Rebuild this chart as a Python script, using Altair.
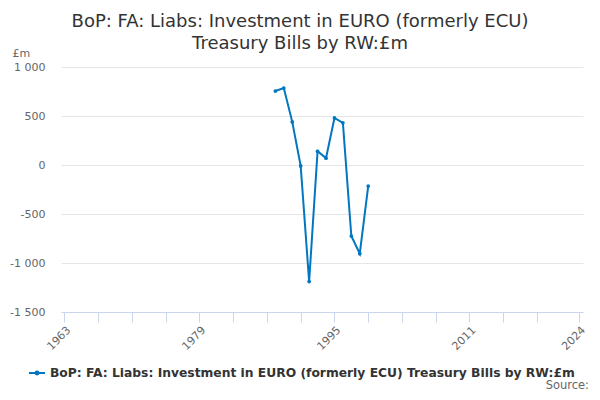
import altair as alt
import pandas as pd

years = [1988, 1989, 1990, 1991, 1992, 1993, 1994, 1995, 1996, 1997, 1998, 1999]
values = [755, 785, 440, -10, -1190, 140, 70, 480, 430, -725, -905, -215]
series_name = "BoP: FA: Liabs: Investment in EURO (formerly ECU) Treasury Bills by RW:£m"
x_ticks = [1963, 1967, 1971, 1975, 1979, 1983, 1987, 1991, 1995, 1999, 2003, 2007, 2011, 2015, 2019, 2024]
x_labels = [1963, 1979, 1995, 2011, 2024]
y_ticks = [-1500, -1000, -500, 0, 500, 1000]

df = pd.DataFrame({"year": years, "value": values, "series": [series_name] * len(years)})

FONT = "DejaVu Sans"
BLUE = "#0077c0"

cond = " || ".join("datum.value == %d" % v for v in x_labels)
lbl_expr = "(" + cond + ") ? '' + datum.value : ''"

line = alt.Chart(df).mark_line(
    point=alt.OverlayMarkDef(filled=True, size=14, color=BLUE), strokeWidth=2
).encode(
    x=alt.X("year:Q",
            scale=alt.Scale(domain=[1962.6, 2024.45], nice=False, zero=False),
            axis=alt.Axis(values=x_ticks, labelExpr=lbl_expr, labelAngle=-45, grid=False,
                          domainColor="#ccd6eb", tickColor="#ccd6eb", tickSize=10,
                          labelColor="#666666", labelFontSize=11, labelFont=FONT,
                          labelPadding=2, title=None, labelOverlap=False, labelBound=False,
                          labelFlush=False)),
    y=alt.Y("value:Q",
            scale=alt.Scale(domain=[-1500, 1000], nice=False),
            axis=alt.Axis(values=y_ticks,
                          labelExpr="replace(replace(format(datum.value, ','), ',', ' '), '\u2212', '-')",
                          domain=False, ticks=False, gridColor="#e6e6e6",
                          labelColor="#666666", labelFontSize=11, labelFont=FONT,
                          labelPadding=16, title="£m", titleAngle=0, titleX=-49, titleY=-11,
                          titleAlign="left", titleBaseline="alphabetic",
                          titleColor="#666666", titleFont=FONT, titleFontSize=11,
                          titleFontWeight="normal")),
    color=alt.Color("series:N", scale=alt.Scale(range=[BLUE]),
                    legend=alt.Legend(title=None, orient="none", legendX=-33, legendY=297,
                                      symbolType="M-1,0L1,0M-0.18,0a0.18,0.18 0 1,0 0.36,0a0.18,0.18 0 1,0 -0.36,0",
                                      symbolSize=256, symbolStrokeWidth=2,
                                      labelFont=FONT, labelFontSize=12.3, labelFontWeight="bold",
                                      labelColor="#333333", labelLimit=600)),
)

source = alt.Chart(pd.DataFrame({"t": ["Source:"]})).mark_text(
    align="right", baseline="alphabetic", font=FONT, fontSize=11.5, color="#666666"
).encode(text="t:N", x=alt.value(528), y=alt.value(322))

chart = alt.layer(line, source).properties(
    width=522, height=245,
    autosize=alt.AutoSizeParams(type="none"),
    padding={"left": 53, "top": 59, "right": 9, "bottom": 80},
    title=alt.TitleParams(
        text=["BoP: FA: Liabs: Investment in EURO (formerly ECU)", "Treasury Bills by RW:£m"],
        font=FONT, fontSize=18, fontWeight="normal", color="#333333",
        anchor="middle", frame="group", dx=-22, dy=20, offset=14, lineHeight=22),
).configure_view(stroke=None).configure_axis(labelFont=FONT)

chart.save("out.html", embed_options={"renderer": "svg", "actions": False})
